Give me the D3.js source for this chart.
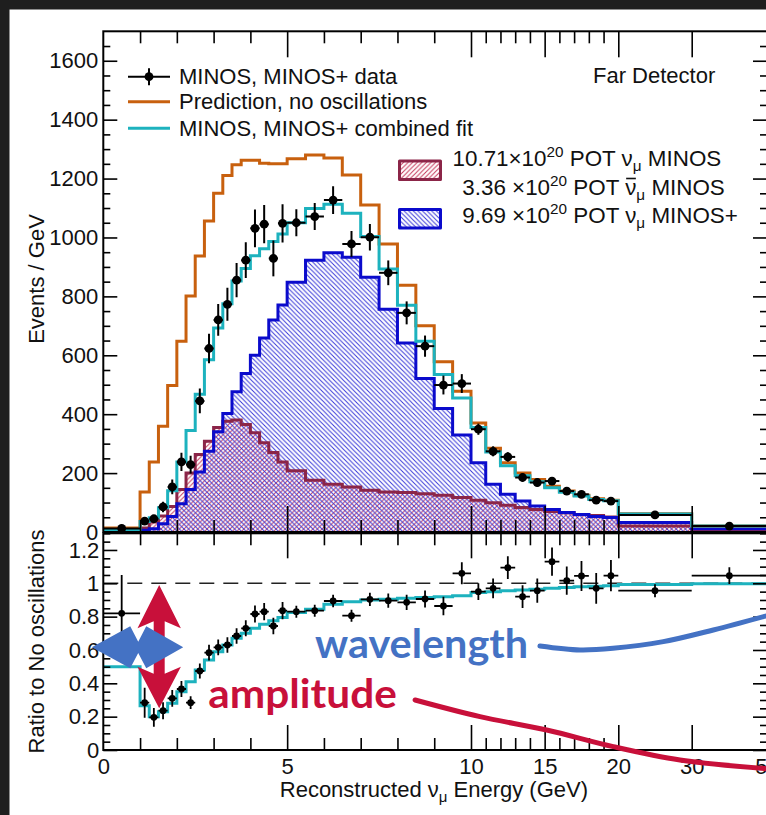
<!DOCTYPE html>
<html><head><meta charset="utf-8">
<script src="https://cdn.jsdelivr.net/npm/d3@7/dist/d3.min.js"></script>
<style>
html,body{margin:0;padding:0;background:#fff;overflow:hidden}
svg{display:block}
text{white-space:pre}
</style></head>
<body>
<svg id="chart" width="766" height="815"></svg>
<script>
// ---------------- DATA ----------------
const binEdges = [0,1,1.25,1.5,1.75,2,2.25,2.5,2.75,3,3.25,3.5,3.75,4,4.25,4.5,4.75,5,
  5.5,6,6.5,7,7.5,8,8.5,9,9.5,10,11,12,13,14,15,16,17,18,19,20,30,50];
const predNoOsc = [14,136,238,359,497,648,801,937,1056,1150,1210,1247,1262,1262,1252,1250,1250,
  1267,1280,1270,1212,1110,978,838,700,578,478,370,284,235,200,178,155,139,125,113,108,62,20];
const combinedFit = [7,36,48,82,140,238,345,468,585,693,775,852,895,938,962,986,1012,
  1050,1098,1113,1082,1003,893,770,648,535,455,355,272,225,191,171,150,135,122,110,106,61,20];
const minosPlusNuMu = [5,6,11,28,53,96,144,204,274,340,402,476,538,600,659,720,771,
  848,923,948,933,865,756,642,521,419,329,235,162,128,105,88,76,66,59,53,49,32,11];
const minosNuMu = [3,14,34,54,87,144,200,263,308,355,376,380,365,337,303,270,238,
  208,176,162,153,142,136,134,130,125,117,108,99,91,83,76,70,65,59,56,51,20,8];
const dataEvents = [12,37,45,85,153,238,229,445,623,720,773,855,923,1031,1045,929,1048,
  1050,1071,1127,978,1001,880,744,631,499,504,349,274,255,185,168,173,139,128,108,105,58,20];
const dataEventsErr = [3.5,12,13,18,25,31,30,42,50,54,56,58,61,64,65,61,65,
  46,46,47,44,45,42,39,36,32,32,19,17,16,14,13,13,12,11,10,10,2.4,1];
const ratioData = [0.82,0.284,0.196,0.236,0.31,0.366,0.284,0.474,0.584,0.616,0.63,0.684,0.73,0.816,0.83,0.744,0.836,
  0.83,0.836,0.894,0.806,0.904,0.896,0.886,0.906,0.864,1.06,0.95,0.97,1.094,0.92,0.956,1.13,1.016,1.044,0.97,1.046,0.956,1.046];
const ratioErr = [0.23,0.09,0.056,0.051,0.05,0.048,0.038,0.045,0.047,0.047,0.046,0.047,0.048,0.051,0.052,0.049,0.052,
  0.036,0.036,0.037,0.036,0.04,0.043,0.046,0.051,0.055,0.066,0.05,0.059,0.068,0.068,0.073,0.085,0.085,0.09,0.092,0.094,0.039,0.05];
const ratioFit = [0.50,0.265,0.20,0.23,0.28,0.35,0.41,0.48,0.54,0.59,0.63,0.67,0.70,0.73,0.755,0.775,0.795,
  0.825,0.845,0.875,0.89,0.90,0.905,0.91,0.915,0.92,0.925,0.945,0.95,0.955,0.96,0.965,0.97,0.975,0.98,0.983,0.986,0.993,0.998];

const yTopMajor = [0,200,400,600,800,1000,1200,1400,1600];
const yRatioMajor = [0,0.2,0.4,0.6,0.8,1,1.2];
const xLabelTicks = [0,5,10,15,20,30,50];
const xMajorTicks = [5,10,15,20,30,50];
const xMinorTicks = [1,2,3,4,6,7,8,9,11,12,13,14,16,17,18,19];
const legendLabels = ["MINOS, MINOS+ data","Prediction, no oscillations","MINOS, MINOS+ combined fit"];

// annotation anchors (in data coordinates of the ratio panel)
const waveCurveE = [14.68,17.40,19.64,26.13,35.74,49.9];
const waveCurveR = [0.624,0.600,0.610,0.650,0.720,0.805];
const ampCurveE = [8.48,10.61,15.14,19.66,28.41,49.9];
const ampCurveR = [0.30,0.20,0.12,0.02,-0.06,-0.112];

(function(){
// ---------------- SETUP ----------------
const W = 766, H = 815;
const FONT = "'Liberation Sans', Arial, Helvetica, sans-serif";
const COL = {orange:"#c8600e", cyan:"#1db2be", blue:"#0b0bcc", maroon:"#8b2548",
  hatchBlue:"#3a3ad8", hatchRed:"#c4395c", annBlue:"#4472c4", annRed:"#c8103a"};

const x = d3.scaleLinear().domain([0,10,20,30,50]).range([103.3,471,618.3,691.7,767]);
const yTop = d3.scaleLinear().domain([0,1700]).range([532,31.3]);
const yRat = d3.scaleLinear().domain([0,1.3]).range([750,533.3]);

const svg = d3.select("#chart");
svg.append("rect").attr("width",W).attr("height",H).attr("fill","#fff");

const defs = svg.append("defs");
function hatch(id, color, dir){
  const s = 4.6;
  const p = defs.append("pattern").attr("id",id).attr("patternUnits","userSpaceOnUse")
    .attr("width",s).attr("height",s);
  const d = dir === "/" ? `M-1,1 l2,-2 M0,${s} l${s},-${s} M${s-1},${s+1} l2,-2`
                        : `M-1,${s-1} l2,2 M0,0 l${s},${s} M${s-1},-1 l2,2`;
  p.append("path").attr("d",d).attr("stroke",color).attr("stroke-width",1).attr("fill","none");
}
hatch("hRed", COL.hatchRed, "/");
hatch("hBlue", COL.hatchBlue, "\\");

const x0 = x.range()[0], x1 = x.range()[x.range().length-1];
defs.append("clipPath").attr("id","clipTop").append("rect")
  .attr("x",x0).attr("y",yTop(1700)).attr("width",x1-x0).attr("height",yTop(0)-yTop(1700));
defs.append("clipPath").attr("id","clipRat").append("rect")
  .attr("x",x0).attr("y",yRat(1.3)).attr("width",x1-x0).attr("height",yRat(0)-yRat(1.3));

function stepPts(vals){
  const pts = [];
  vals.forEach((v,i)=>{ pts.push([binEdges[i],v]); pts.push([binEdges[i+1],v]); });
  return pts;
}
const centers = binEdges.slice(0,-1).map((e,i)=>(e+binEdges[i+1])/2);

// ---------------- TOP PANEL ----------------
const topG = svg.append("g");
const topPlot = topG.append("g").attr("clip-path","url(#clipTop)");
const lineTop = d3.line().x(d=>x(d[0])).y(d=>yTop(d[1]));
const areaTop = d3.area().x(d=>x(d[0])).y0(yTop(0)).y1(d=>yTop(d[1]));

topPlot.append("path").attr("d",areaTop(stepPts(minosNuMu))).attr("fill","url(#hRed)");
topPlot.append("path").attr("d",areaTop(stepPts(minosPlusNuMu))).attr("fill","url(#hBlue)");
topPlot.append("path").attr("d",lineTop(stepPts(minosNuMu))).attr("fill","none")
  .attr("stroke",COL.maroon).attr("stroke-width",3);
topPlot.append("path").attr("d",lineTop(stepPts(minosPlusNuMu))).attr("fill","none")
  .attr("stroke",COL.blue).attr("stroke-width",3);
topPlot.append("path").attr("d",lineTop(stepPts(predNoOsc))).attr("fill","none")
  .attr("stroke",COL.orange).attr("stroke-width",3);
topPlot.append("path").attr("d",lineTop(stepPts(combinedFit))).attr("fill","none")
  .attr("stroke",COL.cyan).attr("stroke-width",3);

const dTop = topPlot.append("g");
dataEvents.forEach((v,i)=>{
  const g = dTop.append("g").attr("stroke","#000").attr("stroke-width",2);
  g.append("line").attr("x1",x(binEdges[i])).attr("x2",x(binEdges[i+1])).attr("y1",yTop(v)).attr("y2",yTop(v));
  g.append("line").attr("x1",x(centers[i])).attr("x2",x(centers[i]))
    .attr("y1",yTop(v-dataEventsErr[i])).attr("y2",yTop(v+dataEventsErr[i]));
  dTop.append("circle").attr("cx",x(centers[i])).attr("cy",yTop(v)).attr("r",4.4).attr("fill","#000");
});

function styleAxis(g, size){
  g.select(".domain").remove();
  g.selectAll("line").attr("stroke","#000").attr("stroke-width",1.6);
  g.selectAll("text").attr("font-family",FONT).attr("font-size",size||22).attr("fill","#111");
}
const yTopMinor = d3.range(50,1700,50).filter(v=>v%200!==0);
topG.append("g").attr("transform",`translate(${x0},0)`)
  .call(d3.axisLeft(yTop).tickValues(yTopMajor).tickSize(-14).tickPadding(5).tickFormat(d3.format("d")))
  .call(g=>styleAxis(g));
topG.append("g").attr("transform",`translate(${x0},0)`)
  .call(d3.axisLeft(yTop).tickValues(yTopMinor).tickSize(-7).tickFormat(""))
  .call(g=>styleAxis(g));
topG.append("g").attr("transform",`translate(${x1},0)`)
  .call(d3.axisRight(yTop).tickValues(yTopMajor).tickSize(-14).tickFormat(""))
  .call(g=>styleAxis(g));
topG.append("g").attr("transform",`translate(${x1},0)`)
  .call(d3.axisRight(yTop).tickValues(yTopMinor).tickSize(-7).tickFormat(""))
  .call(g=>styleAxis(g));
[[yTop(0),"b"],[yTop(1700),"t"]].forEach(([yy,s])=>{
  const ax = s==="b" ? d3.axisBottom : d3.axisTop;
  topG.append("g").attr("transform",`translate(0,${yy})`)
    .call(ax(x).tickValues(xMajorTicks).tickSize(-26).tickFormat("")).call(g=>styleAxis(g));
  topG.append("g").attr("transform",`translate(0,${yy})`)
    .call(ax(x).tickValues(xMinorTicks).tickSize(-12).tickFormat("")).call(g=>styleAxis(g));
});
topG.append("rect").attr("x",x0).attr("y",yTop(1700)).attr("width",x1-x0).attr("height",yTop(0)-yTop(1700))
  .attr("fill","none").attr("stroke","#000").attr("stroke-width",2);

svg.append("text").attr("transform",`translate(43.5,279) rotate(-90)`).attr("text-anchor","middle")
  .attr("font-family",FONT).attr("font-size",22).attr("fill","#111").text("Events / GeV");

// legend 1
const lg = svg.append("g");
const legY = [76.7,101.7,128.3];
lg.append("line").attr("x1",128).attr("x2",170).attr("y1",legY[0]).attr("y2",legY[0]).attr("stroke","#000").attr("stroke-width",2);
lg.append("line").attr("x1",149).attr("x2",149).attr("y1",legY[0]-8.5).attr("y2",legY[0]+8.5).attr("stroke","#000").attr("stroke-width",2);
lg.append("circle").attr("cx",149).attr("cy",legY[0]).attr("r",4.4).attr("fill","#000");
lg.append("line").attr("x1",128).attr("x2",170).attr("y1",legY[1]).attr("y2",legY[1]).attr("stroke",COL.orange).attr("stroke-width",3);
lg.append("line").attr("x1",128).attr("x2",170).attr("y1",legY[2]).attr("y2",legY[2]).attr("stroke",COL.cyan).attr("stroke-width",3);
legendLabels.forEach((t,i)=>{
  lg.append("text").attr("x",179).attr("y",legY[i]+7.3).attr("font-family",FONT).attr("font-size",22)
    .attr("fill","#111").text(t);
});
svg.append("text").attr("x",593).attr("y",83).attr("font-family",FONT).attr("font-size",22).attr("fill","#111").text("Far Detector");

// legend 2
function richText(g, xp, yp, parts){
  const t = g.append("text").attr("x",xp).attr("y",yp).attr("font-family",FONT).attr("font-size",22.4).attr("fill","#111");
  parts.forEach(p=>{ const s = t.append("tspan").text(p.t); if(p.dy) s.attr("dy",p.dy); if(p.size) s.attr("font-size",p.size); });
  return t;
}
lg.append("rect").attr("x",399.5).attr("y",161).attr("width",41).attr("height",18.5)
  .attr("fill","url(#hRed)").attr("stroke",COL.maroon).attr("stroke-width",3).attr("stroke-linejoin","round");
lg.append("rect").attr("x",399.5).attr("y",209.5).attr("width",41).attr("height",18.5)
  .attr("fill","url(#hBlue)").attr("stroke",COL.blue).attr("stroke-width",3).attr("stroke-linejoin","round");
richText(lg, 452.5, 165.7, [{t:"10.71×10"},{t:"20",dy:-9,size:15.3},{t:" POT ν",dy:9},{t:"μ",dy:5,size:15.3},{t:" MINOS",dy:-5}]);
const t2 = richText(lg, 462.3, 195, [{t:"3.36 ×10"},{t:"20",dy:-9,size:15.3},{t:" POT ν",dy:9},{t:"μ",dy:5,size:15.3},{t:" MINOS",dy:-5}]);
richText(lg, 462.3, 222.7, [{t:"9.69 ×10"},{t:"20",dy:-9,size:15.3},{t:" POT ν",dy:9},{t:"μ",dy:5,size:15.3},{t:" MINOS+",dy:-5}]);
{
  const n = t2.node(); const idx = n.textContent.indexOf("ν");
  const s = n.getStartPositionOfChar(idx), e = n.getEndPositionOfChar(idx);
  lg.append("line").attr("x1",s.x+1).attr("x2",e.x-0.5).attr("y1",195-16.5).attr("y2",195-16.5)
    .attr("stroke","#111").attr("stroke-width",1.6);
}

// ---------------- RATIO PANEL ----------------
const rat = svg.append("g");
const ratPlot = rat.append("g").attr("clip-path","url(#clipRat)");
ratPlot.append("line").attr("x1",x0).attr("x2",x1).attr("y1",yRat(1)).attr("y2",yRat(1))
  .attr("stroke","#222").attr("stroke-width",1.4).attr("stroke-dasharray","15,9");
const lineRat = d3.line().x(d=>x(d[0])).y(d=>yRat(d[1]));
ratPlot.append("path").attr("d",lineRat(stepPts(ratioFit))).attr("fill","none")
  .attr("stroke",COL.cyan).attr("stroke-width",3);
ratioData.forEach((v,i)=>{
  const g = ratPlot.append("g").attr("stroke","#000").attr("stroke-width",1.8);
  g.append("line").attr("x1",x(binEdges[i])).attr("x2",x(binEdges[i+1])).attr("y1",yRat(v)).attr("y2",yRat(v));
  g.append("line").attr("x1",x(centers[i])).attr("x2",x(centers[i]))
    .attr("y1",yRat(v-ratioErr[i])).attr("y2",yRat(v+ratioErr[i]));
  ratPlot.append("circle").attr("cx",x(centers[i])).attr("cy",yRat(v)).attr("r",3.4).attr("fill","#000");
});
const yRatMinor = d3.range(1,27).filter(i=>i%4!==0).map(i=>i*0.05);
const ratFmt = d => String(+d.toFixed(1));
rat.append("g").attr("transform",`translate(${x0},0)`)
  .call(d3.axisLeft(yRat).tickValues(yRatioMajor).tickSize(-14).tickPadding(4).tickFormat(ratFmt))
  .call(g=>styleAxis(g));
rat.append("g").attr("transform",`translate(${x0},0)`)
  .call(d3.axisLeft(yRat).tickValues(yRatMinor).tickSize(-7).tickFormat(""))
  .call(g=>styleAxis(g));
rat.append("g").attr("transform",`translate(${x1},0)`)
  .call(d3.axisRight(yRat).tickValues(yRatioMajor).tickSize(-14).tickFormat(""))
  .call(g=>styleAxis(g));
rat.append("g").attr("transform",`translate(${x1},0)`)
  .call(d3.axisRight(yRat).tickValues(yRatMinor).tickSize(-7).tickFormat(""))
  .call(g=>styleAxis(g));
[[yRat(0),"b"],[yRat(1.3),"t"]].forEach(([yy,s])=>{
  const ax = s==="b" ? d3.axisBottom : d3.axisTop;
  rat.append("g").attr("transform",`translate(0,${yy})`)
    .call(ax(x).tickValues(xMajorTicks).tickSize(-25).tickFormat("")).call(g=>styleAxis(g));
  rat.append("g").attr("transform",`translate(0,${yy})`)
    .call(ax(x).tickValues(xMinorTicks).tickSize(-12).tickFormat("")).call(g=>styleAxis(g));
});
rat.append("g").attr("transform",`translate(0,${yRat(0)})`)
  .call(d3.axisBottom(x).tickValues(xLabelTicks).tickSize(0).tickPadding(8.5).tickFormat(d3.format("d")))
  .call(g=>styleAxis(g));
rat.append("rect").attr("x",x0).attr("y",yRat(1.3)).attr("width",x1-x0).attr("height",yRat(0)-yRat(1.3))
  .attr("fill","none").attr("stroke","#000").attr("stroke-width",2);

svg.append("text").attr("transform",`translate(43.5,641.5) rotate(-90)`).attr("text-anchor","middle")
  .attr("font-family",FONT).attr("font-size",22).attr("fill","#111").text("Ratio to No oscillations");
{
  const t = svg.append("text").attr("x",588).attr("y",797).attr("text-anchor","end")
    .attr("font-family",FONT).attr("font-size",22).attr("fill","#111");
  t.append("tspan").text("Reconstructed ν");
  t.append("tspan").attr("dy",5).attr("font-size",15).text("μ");
  t.append("tspan").attr("dy",-5).text(" Energy (GeV)");
}

// ---------------- ANNOTATIONS ----------------
const ann = svg.append("g");
{
  const cx = x(1.52), yT = yRat(0.99), yB = yRat(0.25);
  const hb1 = yRat(0.73), hb2 = yRat(0.50);
  const pts = [[cx,yT],[cx+21.7,hb1],[cx+5.5,hb1-7],[cx+5.5,hb2+7],[cx+21.7,hb2],[cx,yB],
               [cx-21.7,hb2],[cx-5.5,hb2+7],[cx-5.5,hb1-7],[cx-21.7,hb1]];
  ann.append("polygon").attr("points",pts.map(p=>p.join(",")).join(" ")).attr("fill",COL.annRed);
}
{
  const cx = x(0.95), cy = yRat(0.616);
  const off = [[-46.5,0],[-8,-21],[0,-5.6],[8,-21],[45,0],[8,21],[0,5.6],[-8,21]];
  ann.append("polygon").attr("points",off.map(p=>[cx+p[0],cy+p[1]].join(",")).join(" ")).attr("fill",COL.annBlue);
}
const annLine = d3.line().x(d=>x(d[0])).y(d=>yRat(d[1])).curve(d3.curveCatmullRom);
ann.append("path").attr("d",annLine(waveCurveE.map((e,i)=>[e,waveCurveR[i]]))).attr("fill","none")
  .attr("stroke",COL.annBlue).attr("stroke-width",5).attr("stroke-linecap","round");
ann.append("path").attr("d",annLine(ampCurveE.map((e,i)=>[e,ampCurveR[i]]))).attr("fill","none")
  .attr("stroke",COL.annRed).attr("stroke-width",5).attr("stroke-linecap","round");
ann.append("text").attr("x",x(5.757)).attr("y",yRat(0.55)).attr("font-family","Lato, 'Open Sans', sans-serif")
  .attr("font-weight",700).attr("font-size",40).attr("fill",COL.annBlue)
  .attr("textLength",213).attr("lengthAdjust","spacingAndGlyphs").text("wavelength");
ann.append("text").attr("x",x(2.856)).attr("y",yRat(0.25)).attr("font-family","Lato, 'Open Sans', sans-serif")
  .attr("font-weight",700).attr("font-size",40).attr("fill",COL.annRed)
  .attr("textLength",188.5).attr("lengthAdjust","spacingAndGlyphs").text("amplitude");

svg.append("rect").attr("x",0).attr("y",0).attr("width",W).attr("height",9.5).attr("fill","#1e1e1e");
svg.append("rect").attr("x",0).attr("y",0).attr("width",9.5).attr("height",H).attr("fill","#1e1e1e");
})();
</script>
</body></html>
